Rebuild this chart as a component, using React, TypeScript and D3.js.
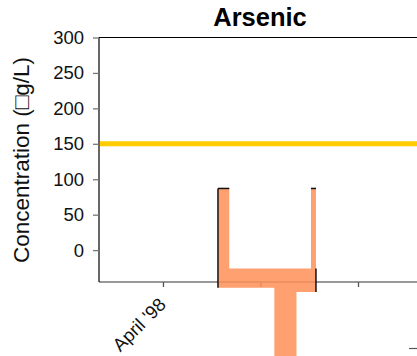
import React, { useEffect, useRef } from "react";
import * as d3 from "d3";

// values
const yTicks = [0, 50, 100, 150, 200, 250, 300];
const xTicks = [0, 1, 2];
const xTickLabels = ["April '98", "", ""];
const guideline = 150;
// outline of the orange shape (x in tick units, y in µg/L)
const shapeX = [0.564, 0.68, 0.68, 1.518, 1.518, 1.569, 1.569, 1.369, 1.369, 1.142, 1.142, 0.564];
const shapeY = [87, 87, -26, -26, 87, 87, -59, -59, -170, -170, -53, -53];
// dark edges drawn over the shape
const edgeX1 = [0.564, 0.564, 1.518, 1.569];
const edgeX2 = [0.564, 0.68, 1.569, 1.569];
const edgeY1 = [87, 87, 87, -26];
const edgeY2 = [-53, 87, 87, -59];

const App = () => {
  const ref = useRef<SVGSVGElement>(null);

  useEffect(() => {
    const width = 417,
      height = 356;
    const margin = { top: 37.5, right: -4, bottom: 74, left: 99 };

    const svg = d3.select(ref.current);
    svg.selectAll("*").remove();

    const x = d3
      .scaleLinear()
      .domain([-0.656, 2.646])
      .range([margin.left, width - margin.right]);
    const y = d3
      .scaleLinear()
      .domain([-45, 300])
      .range([height - margin.bottom, margin.top]);

    const font = "'Liberation Sans', Arial, sans-serif";

    // title
    svg
      .append("text")
      .attr("x", (margin.left + width - margin.right) / 2)
      .attr("y", 25.5)
      .attr("text-anchor", "middle")
      .style("font-family", font)
      .style("font-size", "25.5px")
      .style("font-weight", "bold")
      .text("Arsenic");

    // top frame line
    svg
      .append("line")
      .attr("x1", margin.left)
      .attr("x2", width - margin.right)
      .attr("y1", y(300))
      .attr("y2", y(300))
      .attr("stroke", "#000")
      .attr("stroke-width", 1.2);

    // left axis
    const yAxis = svg
      .append("g")
      .attr("transform", `translate(${margin.left},0)`)
      .call(d3.axisLeft(y).tickValues(yTicks).tickSize(6).tickPadding(9));
    yAxis.select(".domain").attr("stroke", "#000").attr("stroke-width", 1.2).attr("d", `M0,${y(300)}V${y(-45)}`);
    yAxis.selectAll(".tick line").attr("stroke", "#777").attr("stroke-width", 1.3);
    yAxis
      .selectAll(".tick text")
      .style("font-family", font)
      .style("font-size", "18.5px")
      .attr("fill", "#111");

    // bottom axis
    const xAxis = svg
      .append("g")
      .attr("transform", `translate(0,${y(-45)})`)
      .call(
        d3
          .axisBottom(x)
          .tickValues(xTicks)
          .tickSize(5)
          .tickFormat((d, i) => xTickLabels[i])
      );
    xAxis.select(".domain").attr("stroke", "#333").attr("stroke-width", 1.2).attr("d", `M${margin.left},0H${width - margin.right}`);
    xAxis.selectAll(".tick line").attr("stroke", "#555").attr("stroke-width", 1.3);
    xAxis
      .selectAll(".tick text")
      .style("font-family", font)
      .style("font-size", "18.5px")
      .attr("fill", "#111")
      .attr("text-anchor", "end")
      .attr("dy", "0")
      .attr("transform", "translate(-2,18) rotate(-45)");

    // y-axis title
    svg
      .append("text")
      .attr("transform", `translate(29,${160}) rotate(-90)`)
      .attr("text-anchor", "middle")
      .style("font-family", font)
      .style("font-size", "22.5px")
      .attr("fill", "#111")
      .text("Concentration (\u25A1g/L)");

    // guideline
    svg
      .append("line")
      .attr("x1", margin.left + 1)
      .attr("x2", width - margin.right)
      .attr("y1", y(guideline))
      .attr("y2", y(guideline))
      .attr("stroke", "#FFCC00")
      .attr("stroke-width", 5);

    // orange shape
    const pts = shapeX.map((d, i) => [x(d), y(shapeY[i])] as [number, number]);
    svg
      .append("path")
      .attr("d", d3.line()(pts) + "Z")
      .attr("fill", "#FF8F57")
      .attr("fill-opacity", 0.85);

    svg
      .selectAll(".edge")
      .data(edgeX1)
      .enter()
      .append("line")
      .attr("x1", (d) => x(d))
      .attr("x2", (d, i) => x(edgeX2[i]))
      .attr("y1", (d, i) => y(edgeY1[i]))
      .attr("y2", (d, i) => y(edgeY2[i]))
      .attr("stroke", "#111")
      .attr("stroke-width", 1.5);

    // small dash at the bottom right
    svg
      .append("line")
      .attr("x1", width - 8)
      .attr("x2", width)
      .attr("y1", height - 7.5)
      .attr("y2", height - 7.5)
      .attr("stroke", "#555")
      .attr("stroke-width", 1.2);
  }, []);

  return (
    <div style={{ position: "absolute", left: 0, top: 0 }}>
      <svg ref={ref} width={417} height={356} style={{ display: "block", background: "#fff" }}></svg>
    </div>
  );
};

export default App;
